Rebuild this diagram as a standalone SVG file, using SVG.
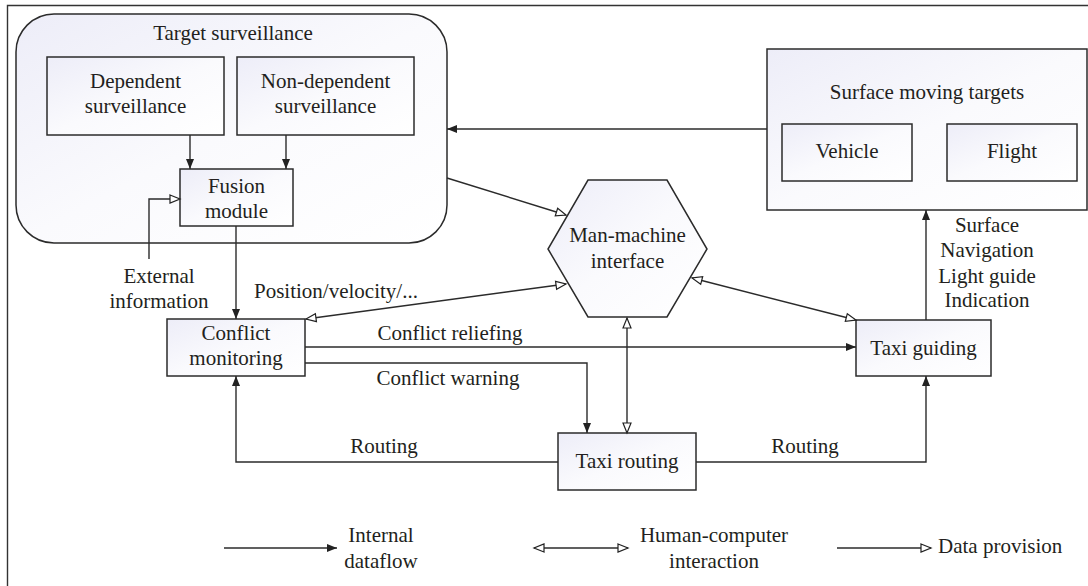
<svg xmlns="http://www.w3.org/2000/svg" width="1088" height="586" viewBox="0 0 1088 586">
<defs>
<linearGradient id="g" x1="0" y1="0" x2="1" y2="1">
<stop offset="0" stop-color="#ededf8"/>
<stop offset="0.5" stop-color="#fafafd"/>
<stop offset="1" stop-color="#ffffff"/>
</linearGradient>
<marker id="af" viewBox="0 0 10 8" refX="10" refY="4" markerWidth="10" markerHeight="8" markerUnits="userSpaceOnUse" orient="auto-start-reverse">
<path d="M0,0 L10,4 L0,8 z" fill="#222"/>
</marker>
<marker id="ah" viewBox="-1 -1 12 10" refX="10" refY="4" markerWidth="12" markerHeight="10" markerUnits="userSpaceOnUse" orient="auto-start-reverse" overflow="visible">
<path d="M0,0 L10,4 L0,8 z" fill="#fff" stroke="#222" stroke-width="1.2"/>
</marker>
</defs>
<style>
.box{fill:url(#g);stroke:#2b2b2b;stroke-width:1.5}
.grp{fill:url(#g);stroke:#2b2b2b;stroke-width:1.5}
.ln{fill:none;stroke:#2b2b2b;stroke-width:1.4}
.fa{marker-end:url(#af)}
.ha{marker-end:url(#ah)}
.hb{marker-start:url(#ah);marker-end:url(#ah)}
text{font-family:"Liberation Serif","Times New Roman",serif;font-size:21px;fill:#231f20}
.c{text-anchor:middle}
</style>
<rect width="1088" height="586" fill="#fff"/>
<g id="frame">
<path d="M7.5,586 L7.5,5.5 L1088,5.5" fill="none" stroke="#333" stroke-width="1.4"/>
</g>
<g id="target-surveillance">
<rect class="grp" x="16" y="14" width="431" height="229" rx="38"/>
<text class="c" x="233" y="40">Target surveillance</text>
</g>
<g id="dependent-surveillance">
<rect class="box" x="47" y="57" width="177" height="78"/>
<text class="c" x="135.5" y="88">Dependent</text>
<text class="c" x="135.5" y="113">surveillance</text>
</g>
<g id="non-dependent-surveillance">
<rect class="box" x="237" y="57" width="177" height="78"/>
<text class="c" x="325.5" y="88">Non-dependent</text>
<text class="c" x="325.5" y="113">surveillance</text>
</g>
<g id="fusion-module">
<rect class="box" x="180" y="169" width="113" height="57"/>
<text class="c" x="236.5" y="193">Fusion</text>
<text class="c" x="236.5" y="218">module</text>
</g>
<g id="surface-moving-targets">
<rect class="grp" x="767" y="49" width="320" height="161"/>
<text class="c" x="927" y="99">Surface moving targets</text>
</g>
<g id="vehicle">
<rect class="box" x="782" y="124" width="130" height="57"/>
<text class="c" x="847" y="158">Vehicle</text>
</g>
<g id="flight">
<rect class="box" x="947" y="124" width="130" height="57"/>
<text class="c" x="1012" y="158">Flight</text>
</g>
<g id="man-machine-interface">
<polygon class="box" points="588,180 667,180 707,249 667,317 588,317 548,249"/>
<text class="c" x="627.5" y="242">Man-machine</text>
<text class="c" x="627.5" y="268">interface</text>
</g>
<g id="conflict-monitoring">
<rect class="box" x="167" y="319" width="138" height="57"/>
<text class="c" x="236" y="340">Conflict</text>
<text class="c" x="236" y="365">monitoring</text>
</g>
<g id="taxi-guiding">
<rect class="box" x="856" y="320" width="135" height="56"/>
<text class="c" x="923.5" y="355">Taxi guiding</text>
</g>
<g id="taxi-routing">
<rect class="box" x="558" y="433" width="138" height="57"/>
<text class="c" x="627" y="468">Taxi routing</text>
</g>
<g id="connectors">
<line class="ln fa" x1="190" y1="135" x2="190" y2="169"/>
<line class="ln fa" x1="286" y1="135" x2="286" y2="169"/>
<polyline class="ln ha" points="149,259 149,199 180,199"/>
<line class="ln fa" x1="236" y1="226" x2="236" y2="319"/>
<line class="ln fa" x1="767" y1="129" x2="447" y2="129"/>
<line class="ln ha" x1="447" y1="178" x2="566" y2="215"/>
<line class="ln hb" x1="306" y1="319" x2="566" y2="284"/>
<line class="ln hb" x1="692" y1="278" x2="856" y2="320"/>
<line class="ln hb" x1="627" y1="318" x2="627" y2="433"/>
<line class="ln fa" x1="305" y1="347" x2="856" y2="347"/>
<polyline class="ln fa" points="305,363 587,363 587,433"/>
<polyline class="ln fa" points="558,462 236,462 236,376"/>
<polyline class="ln fa" points="696,462 926,462 926,376"/>
<line class="ln fa" x1="926" y1="320" x2="926" y2="210"/>
</g>
<g id="labels">
<text class="c" x="159" y="283">External</text>
<text class="c" x="159" y="308">information</text>
<text x="254" y="298">Position/velocity/...</text>
<text class="c" x="450" y="340">Conflict reliefing</text>
<text class="c" x="448" y="385">Conflict warning</text>
<text class="c" x="384" y="453">Routing</text>
<text class="c" x="805" y="453">Routing</text>
<text class="c" x="987" y="232">Surface</text>
<text class="c" x="987" y="257">Navigation</text>
<text class="c" x="987" y="283">Light guide</text>
<text class="c" x="987" y="307">Indication</text>
</g>
<g id="legend">
<line class="ln fa" x1="224" y1="548" x2="337" y2="548"/>
<text class="c" x="381" y="542">Internal</text>
<text class="c" x="381" y="568">dataflow</text>
<line class="ln hb" x1="534" y1="548" x2="628" y2="548"/>
<text class="c" x="714" y="542">Human-computer</text>
<text class="c" x="714" y="568">interaction</text>
<line class="ln ha" x1="837" y1="548" x2="931" y2="548"/>
<text x="938" y="553">Data provision</text>
</g>
</svg>
